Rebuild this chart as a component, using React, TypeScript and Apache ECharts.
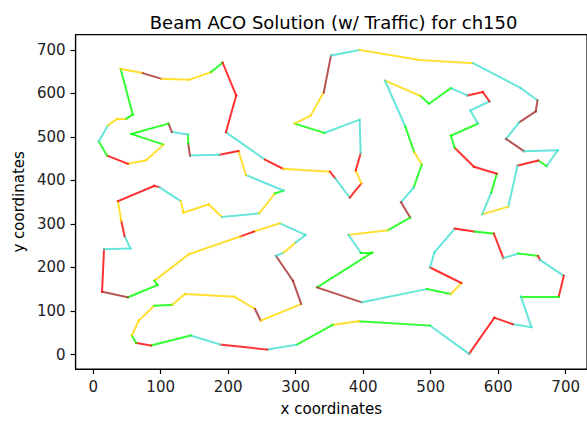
import React, { useEffect, useRef } from "react";
import * as echarts from "echarts";

// Tour of ch150, in visiting order (closed loop)
const cityX = [
  196.7, 254.5, 281.4, 350.8, 358.7, 380.2, 397.3, 389.0, 396.3, 394.8,
  342.6, 298.5, 322.0, 341.6, 352.3, 394.8, 482.0, 562.8, 633.6, 658.2,
  655.7, 631.2, 611.6, 638.5, 688.4, 671.8, 659.6, 628.8, 615.0, 576.4,
  589.6, 598.0, 564.2, 535.7, 529.9, 570.1, 558.8, 587.1, 577.4, 554.4,
  529.9, 497.6, 484.4, 432.1, 462.4, 475.6, 486.9, 474.7, 456.0, 469.7,
  436.2, 378.2, 396.3, 413.5, 331.7, 397.8, 494.2, 529.9, 545.6, 499.0,
  505.5, 535.7, 565.1, 593.6, 607.7, 629.7, 659.0, 662.0, 697.2, 689.9,
  633.6, 649.3, 621.5, 594.5, 556.9, 499.0, 394.0, 354.8, 301.9, 257.9,
  188.5, 144.4, 85.7, 63.7, 57.2, 67.5, 90.6, 117.4, 136.1, 209.0,
  239.8, 248.1, 308.2, 296.0, 270.7, 282.4, 300.0, 314.7, 276.5, 238.4,
  217.8, 141.9, 90.6, 95.4, 51.4, 13.2, 16.1, 55.3, 46.5, 41.7,
  36.7, 90.6, 97.9, 129.8, 133.6, 171.3, 190.8, 246.1, 269.2, 282.1,
  226.3, 215.3, 187.0, 143.4, 140.9, 140.5, 116.5, 111.6, 56.4, 104.2,
  78.4, 51.4, 20.5, 8.4, 22.0, 35.8, 49.0, 58.7, 40.7, 73.4,
  101.3, 141.9, 174.7, 191.8, 211.9,
];
const cityY = [
  510.7, 448.1, 426.8, 420.0, 404.6, 360.4, 393.2, 423.0, 461.9, 539.7,
  509.3, 530.6, 548.9, 602.2, 687.0, 700.0, 677.1, 669.6, 612.3, 583.9,
  558.7, 533.5, 495.5, 467.1, 469.4, 432.8, 445.8, 434.4, 339.8, 322.2,
  371.9, 415.4, 431.4, 474.9, 503.1, 530.6, 561.0, 581.6, 603.2, 595.4,
  612.3, 576.4, 594.7, 629.7, 524.4, 464.9, 436.7, 383.3, 350.4, 314.6,
  285.5, 274.8, 234.5, 234.5, 154.3, 120.0, 150.4, 139.0, 164.2, 200.1,
  234.5, 289.4, 282.6, 278.0, 221.4, 232.2, 226.7, 217.5, 180.9, 133.7,
  133.7, 62.7, 69.6, 84.7, 1.6, 66.4, 76.5, 68.0, 22.9, 11.4,
  22.9, 43.5, 20.6, 26.8, 43.5, 77.9, 112.2, 114.5, 139.0, 132.8,
  104.6, 77.9, 116.1, 169.5, 226.7, 234.5, 257.4, 274.8, 301.6, 282.6,
  271.1, 230.6, 169.5, 159.6, 131.4, 144.3, 242.0, 243.6, 272.5, 306.8,
  352.6, 387.5, 384.7, 352.6, 326.1, 345.1, 316.0, 324.5, 370.3, 376.7,
  412.6, 467.6, 458.9, 457.3, 484.8, 505.4, 511.6, 530.6, 507.0, 482.5,
  446.5, 438.3, 457.3, 490.0, 526.7, 542.0, 542.0, 551.2, 656.5, 646.7,
  633.6, 631.3, 649.0, 671.0, 595.4,
];
// Traffic level of the edge leaving each city (G free, C light, Y moderate, R heavy, B jammed)
const edgeTraffic = (
  "CRYRCRYRCC" + "GYYBCYYCCB" + "BCBCCGRCYC" + "GRRGGCCRRC" +
  "GGYCGYGCBG" + "YCGGBCGYRC" + "CRGRCGRCRG" + "CCRRCGYGCR" +
  "CGRGYYGYYY" + "BYBBCYCCYR" + "YYGGBRCCRY" + "RRCYYYCYGC" +
  "YRCBGCBGGY" + "YRGCYYGGYB" + "YYGRR"
).split("");

const xTicks = [0, 100, 200, 300, 400, 500, 600, 700];
const yTicks = [0, 100, 200, 300, 400, 500, 600, 700];
const titleText = "Beam ACO Solution (w/ Traffic) for ch150";
const xName = "x coordinates";
const yName = "y coordinates";

const palette: Record<string, string> = {
  G: "#00ff00",
  C: "#40e0d0",
  Y: "#ffd700",
  R: "#ff0000",
  B: "#a52a2a",
};

export default function App() {
  const ref = useRef<HTMLDivElement>(null);
  useEffect(() => {
    const chart = echarts.init(ref.current!, null, { renderer: "svg" });
    const n = cityX.length;
    const segs = cityX.map((x, i) => {
      const j = (i + 1) % n;
      return {
        coords: [
          [x, cityY[i]],
          [cityX[j], cityY[j]],
        ],
        lineStyle: { color: palette[edgeTraffic[i]] || "#000" },
      };
    });
    const font = "DejaVu Sans";
    chart.setOption({
      animation: false,
      backgroundColor: "#ffffff",
      textStyle: { fontFamily: font },
      grid: {
        left: 75.6,
        top: 34.7,
        right: -4.7,
        bottom: 50.8,
        show: true,
        borderColor: "#000",
        borderWidth: 1.2,
        backgroundColor: "transparent",
      },
      graphic: [
        {
          type: "text",
          x: 333.6,
          y: 22,
          style: {
            text: titleText,
            fontSize: 18,
            fontFamily: font,
            fill: "#000",
            align: "center",
            verticalAlign: "middle",
          },
        },
      ],
      xAxis: {
        type: "value",
        min: -26,
        max: 731.6,
        name: xName,
        nameLocation: "middle",
        nameGap: 32,
        nameTextStyle: { fontSize: 15, color: "#000", fontFamily: font },
        axisLine: { show: true, onZero: false, lineStyle: { color: "#000", width: 1.2 } },
        axisTick: { show: true, length: 5, lineStyle: { color: "#000", width: 1.2 }, customValues: xTicks },
        axisLabel: { customValues: xTicks, fontSize: 15, color: "#222", margin: 10, fontFamily: font },
        splitLine: { show: false },
      },
      yAxis: {
        type: "value",
        min: -33.3,
        max: 735,
        name: yName,
        nameLocation: "middle",
        nameGap: 48,
        nameTextStyle: { fontSize: 15, color: "#000", fontFamily: font },
        axisLine: { show: true, onZero: false, lineStyle: { color: "#000", width: 1.2 } },
        axisTick: { show: true, length: 5, lineStyle: { color: "#000", width: 1.2 }, customValues: yTicks },
        axisLabel: { customValues: yTicks, fontSize: 15, color: "#222", margin: 10, fontFamily: font },
        splitLine: { show: false },
      },
      series: [
        {
          type: "lines",
          coordinateSystem: "cartesian2d",
          polyline: false,
          silent: true,
          data: segs,
          lineStyle: { width: 2, opacity: 0.8, cap: "square" },
        },
      ],
    });
    return () => chart.dispose();
  }, []);
  return (
    <div
      ref={ref}
      style={{ position: "fixed", left: 0, top: 0, width: 587, height: 421, background: "#fff" }}
    />
  );
}
